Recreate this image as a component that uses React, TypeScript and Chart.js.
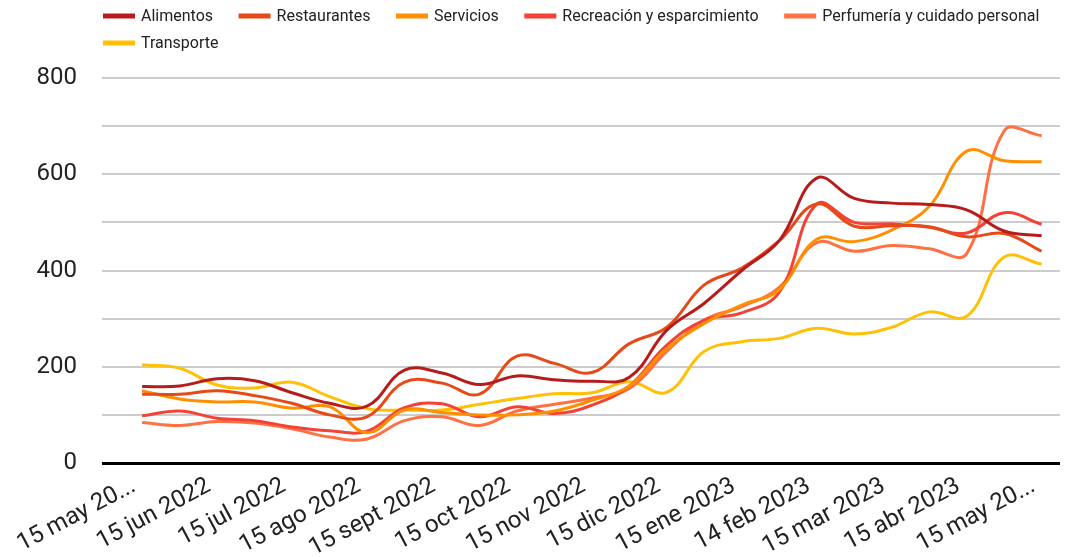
import React, { useEffect, useRef } from 'react';
import { Chart, registerables } from 'chart.js';

Chart.register(...registerables);

const tickLabels = [
  '15 may 20...', '15 jun 2022', '15 jul 2022', '15 ago 2022', '15 sept 2022', '15 oct 2022',
  '15 nov 2022', '15 dic 2022', '15 ene 2023', '14 feb 2023', '15 mar 2023', '15 abr 2023', '15 may 20...',
];

const alimentos = [159, 160, 175, 171, 146, 124, 118, 193, 187, 163, 181, 173, 170, 178, 276, 332, 400, 462, 592, 550, 540, 537, 526, 482, 472];
const restaurantes = [143, 143, 150, 140, 124, 100, 96, 168, 166, 143, 222, 207, 188, 248, 282, 370, 405, 462, 538, 492, 493, 491, 470, 477, 440];
const servicios = [150, 133, 127, 127, 114, 117, 63, 110, 105, 100, 100, 108, 130, 160, 238, 290, 328, 360, 465, 460, 484, 533, 648, 628, 626];
const recreacion = [98, 108, 93, 88, 75, 67, 66, 115, 123, 96, 117, 103, 120, 160, 245, 297, 312, 355, 538, 500, 497, 490, 478, 520, 496];
const perfumeria = [84, 78, 86, 83, 71, 54, 50, 88, 96, 78, 108, 122, 135, 155, 232, 297, 325, 365, 458, 440, 452, 445, 435, 690, 680];
const transporte = [204, 197, 162, 156, 168, 138, 113, 110, 110, 122, 134, 144, 146, 169, 147, 232, 252, 259, 280, 268, 282, 314, 305, 428, 413];

const seriesNames = ['Alimentos', 'Restaurantes', 'Servicios', 'Recreación y esparcimiento', 'Perfumería y cuidado personal', 'Transporte'];
const seriesValues = [alimentos, restaurantes, servicios, recreacion, perfumeria, transporte];
const seriesColors = ['#b71c1c', '#e64a19', '#ff8f00', '#f44336', '#ff7043', '#ffc107'];

const FONT = 'Roboto, "Noto Sans", sans-serif';

const legendPlugin = {
  id: 'customLegend',
  afterDraw(chart: any) {
    const ctx = chart.ctx;
    ctx.save();
    ctx.font = `16px ${FONT}`;
    ctx.textBaseline = 'middle';
    ctx.textAlign = 'left';
    const startX = 103;
    const maxX = 1055;
    let x = startX;
    let y = 16;
    chart.data.datasets.forEach((ds: any) => {
      const w = 32 + 6 + ctx.measureText(ds.label).width;
      if (x > startX && x + w > maxX) {
        x = startX;
        y += 27;
      }
      ctx.fillStyle = ds.borderColor;
      ctx.fillRect(x, y - 2.5, 32, 5);
      ctx.fillStyle = '#222222';
      ctx.fillText(ds.label, x + 38, y + 1);
      x += w + 25.5;
    });
    ctx.restore();
  },
};

export default function App() {
  const canvasRef = useRef<HTMLCanvasElement | null>(null);

  useEffect(() => {
    if (!canvasRef.current) return;
    const chart = new Chart(canvasRef.current, {
      type: 'line',
      data: {
        datasets: seriesNames.map((name, k) => ({
          label: name,
          data: seriesValues[k].map((v, i) => ({ x: i, y: v })),
          borderColor: seriesColors[k],
          backgroundColor: seriesColors[k],
          borderWidth: 3,
          pointRadius: 0,
          tension: 0.4,
          fill: false,
        })),
      },
      options: {
        animation: false,
        responsive: true,
        maintainAspectRatio: false,
        layout: { padding: { top: 78, right: 8, left: 0, bottom: 0 } },
        plugins: {
          legend: { display: false },
          tooltip: { enabled: false },
        },
        scales: {
          x: {
            type: 'linear',
            min: -1.07,
            max: 24.49,
            grid: { display: false, drawTicks: false },
            border: { display: false },
            afterBuildTicks: (scale: any) => {
              scale.ticks = tickLabels.map((_, k) => ({ value: k * 2 }));
            },
            afterFit: (scale: any) => {
              scale.height = 94;
            },
            ticks: {
              autoSkip: false,
              minRotation: 28,
              maxRotation: 28,
              padding: 9,
              labelOffset: -8,
              color: '#222222',
              font: { family: FONT, size: 24 },
              callback: (value: any) => {
                const k = Math.round(Number(value) / 2);
                return tickLabels[k] ?? '';
              },
            },
          },
          y: {
            min: 0,
            max: 800,
            border: { display: false },
            afterFit: (scale: any) => {
              scale.width = 102;
            },
            grid: {
              drawTicks: false,
              color: (c: any) => (c.tick && c.tick.value === 0 ? '#000000' : '#cccccc'),
              lineWidth: (c: any) => (c.tick && c.tick.value === 0 ? 3 : 2),
            },
            ticks: {
              stepSize: 100,
              padding: 25,
              color: '#222222',
              font: { family: FONT, size: 24 },
              callback: (value: any) => (Number(value) % 200 === 0 ? String(value) : ''),
            },
          },
        },
      },
      plugins: [legendPlugin],
    });
    return () => chart.destroy();
  }, []);

  return (
    <div style={{ position: 'fixed', left: 0, top: 0, width: 1068, height: 557, background: '#ffffff' }}>
      <canvas ref={canvasRef} />
    </div>
  );
}
